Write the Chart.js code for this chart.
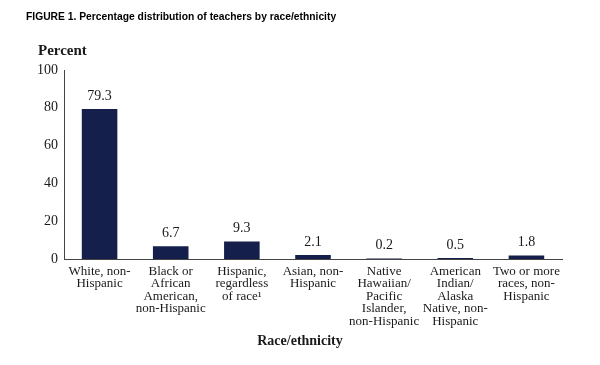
<!DOCTYPE html>
<html>
<head>
<meta charset="utf-8">
<script src="https://cdn.jsdelivr.net/npm/chart.js@4/dist/chart.umd.min.js"></script>
<style>
html,body{margin:0;padding:0;background:#fff;}
#wrap{width:600px;height:365px;position:relative;}
</style>
</head>
<body>
<div id="wrap"><canvas id="c" width="600" height="365"></canvas></div>
<script>
const categories = [
  ["White, non-", "Hispanic"],
  ["Black or", "African", "American,", "non-Hispanic"],
  ["Hispanic,", "regardless", "of race\u00B9"],
  ["Asian, non-", "Hispanic"],
  ["Native", "Hawaiian/", "Pacific", "Islander,", "non-Hispanic"],
  ["American", "Indian/", "Alaska", "Native, non-", "Hispanic"],
  ["Two or more", "races, non-", "Hispanic"]
];
const percentValues = [79.3, 6.7, 9.3, 2.1, 0.2, 0.5, 1.8];
const valueLabels = ["79.3", "6.7", "9.3", "2.1", "0.2", "0.5", "1.8"];
const yTicks = [0, 20, 40, 60, 80, 100];
const figureTitle = "FIGURE 1. Percentage distribution of teachers by race/ethnicity";
const yTitle = "Percent";
const xTitle = "Race/ethnicity";

const serif = "'Liberation Serif', 'DejaVu Serif', serif";
const textColor = "#1a1a1a";
const barColor = "#141f4b";

const textPlugin = {
  id: 'texts',
  afterDraw(chart) {
    const ctx = chart.ctx;
    ctx.save();
    ctx.fillStyle = "#000";
    ctx.textBaseline = "middle";
    ctx.textAlign = "left";
    ctx.font = "bold 10.3px 'Liberation Sans', Arial, sans-serif";
    ctx.fillText(figureTitle, 26, 17);
    ctx.fillStyle = textColor;
    ctx.font = "bold 15px " + serif;
    ctx.fillText(yTitle, 38, 51);
    ctx.textAlign = "center";
    ctx.font = "bold 14px " + serif;
    ctx.fillText(xTitle, 300, 341);
    // value labels
    const meta = chart.getDatasetMeta(0);
    ctx.font = "14px " + serif;
    meta.data.forEach((bar, i) => {
      ctx.fillText(valueLabels[i], bar.x, bar.y - 13);
    });
    ctx.restore();
  }
};

new Chart(document.getElementById('c'), {
  type: 'bar',
  data: {
    labels: categories,
    datasets: [{
      data: percentValues,
      backgroundColor: barColor,
      borderWidth: 0,
      barPercentage: 0.5,
      categoryPercentage: 1.0
    }]
  },
  options: {
    responsive: false,
    animation: false,
    devicePixelRatio: 1,
    layout: { padding: { top: 70, right: 38, bottom: 0, left: 0 } },
    plugins: { legend: { display: false }, tooltip: { enabled: false }, title: { display: false } },
    scales: {
      x: {
        grid: { display: false, drawTicks: false },
        border: { display: true, color: "#444", width: 1 },
        ticks: {
          color: textColor,
          font: { family: serif, size: 13, lineHeight: 0.96 },
          padding: 6,
          maxRotation: 0,
          minRotation: 0,
          autoSkip: false
        },
        afterFit(scale) { scale.height = 106; }
      },
      y: {
        min: 0,
        max: 100,
        afterBuildTicks(scale) { scale.ticks = yTicks.map(v => ({ value: v })); },
        grid: { display: false, drawTicks: false },
        border: { display: true, color: "#444", width: 1 },
        ticks: {
          color: textColor,
          font: { family: serif, size: 14 },
          padding: 6
        },
        afterFit(scale) { scale.width = 64; }
      }
    }
  },
  plugins: [textPlugin]
});
</script>
</body>
</html>
